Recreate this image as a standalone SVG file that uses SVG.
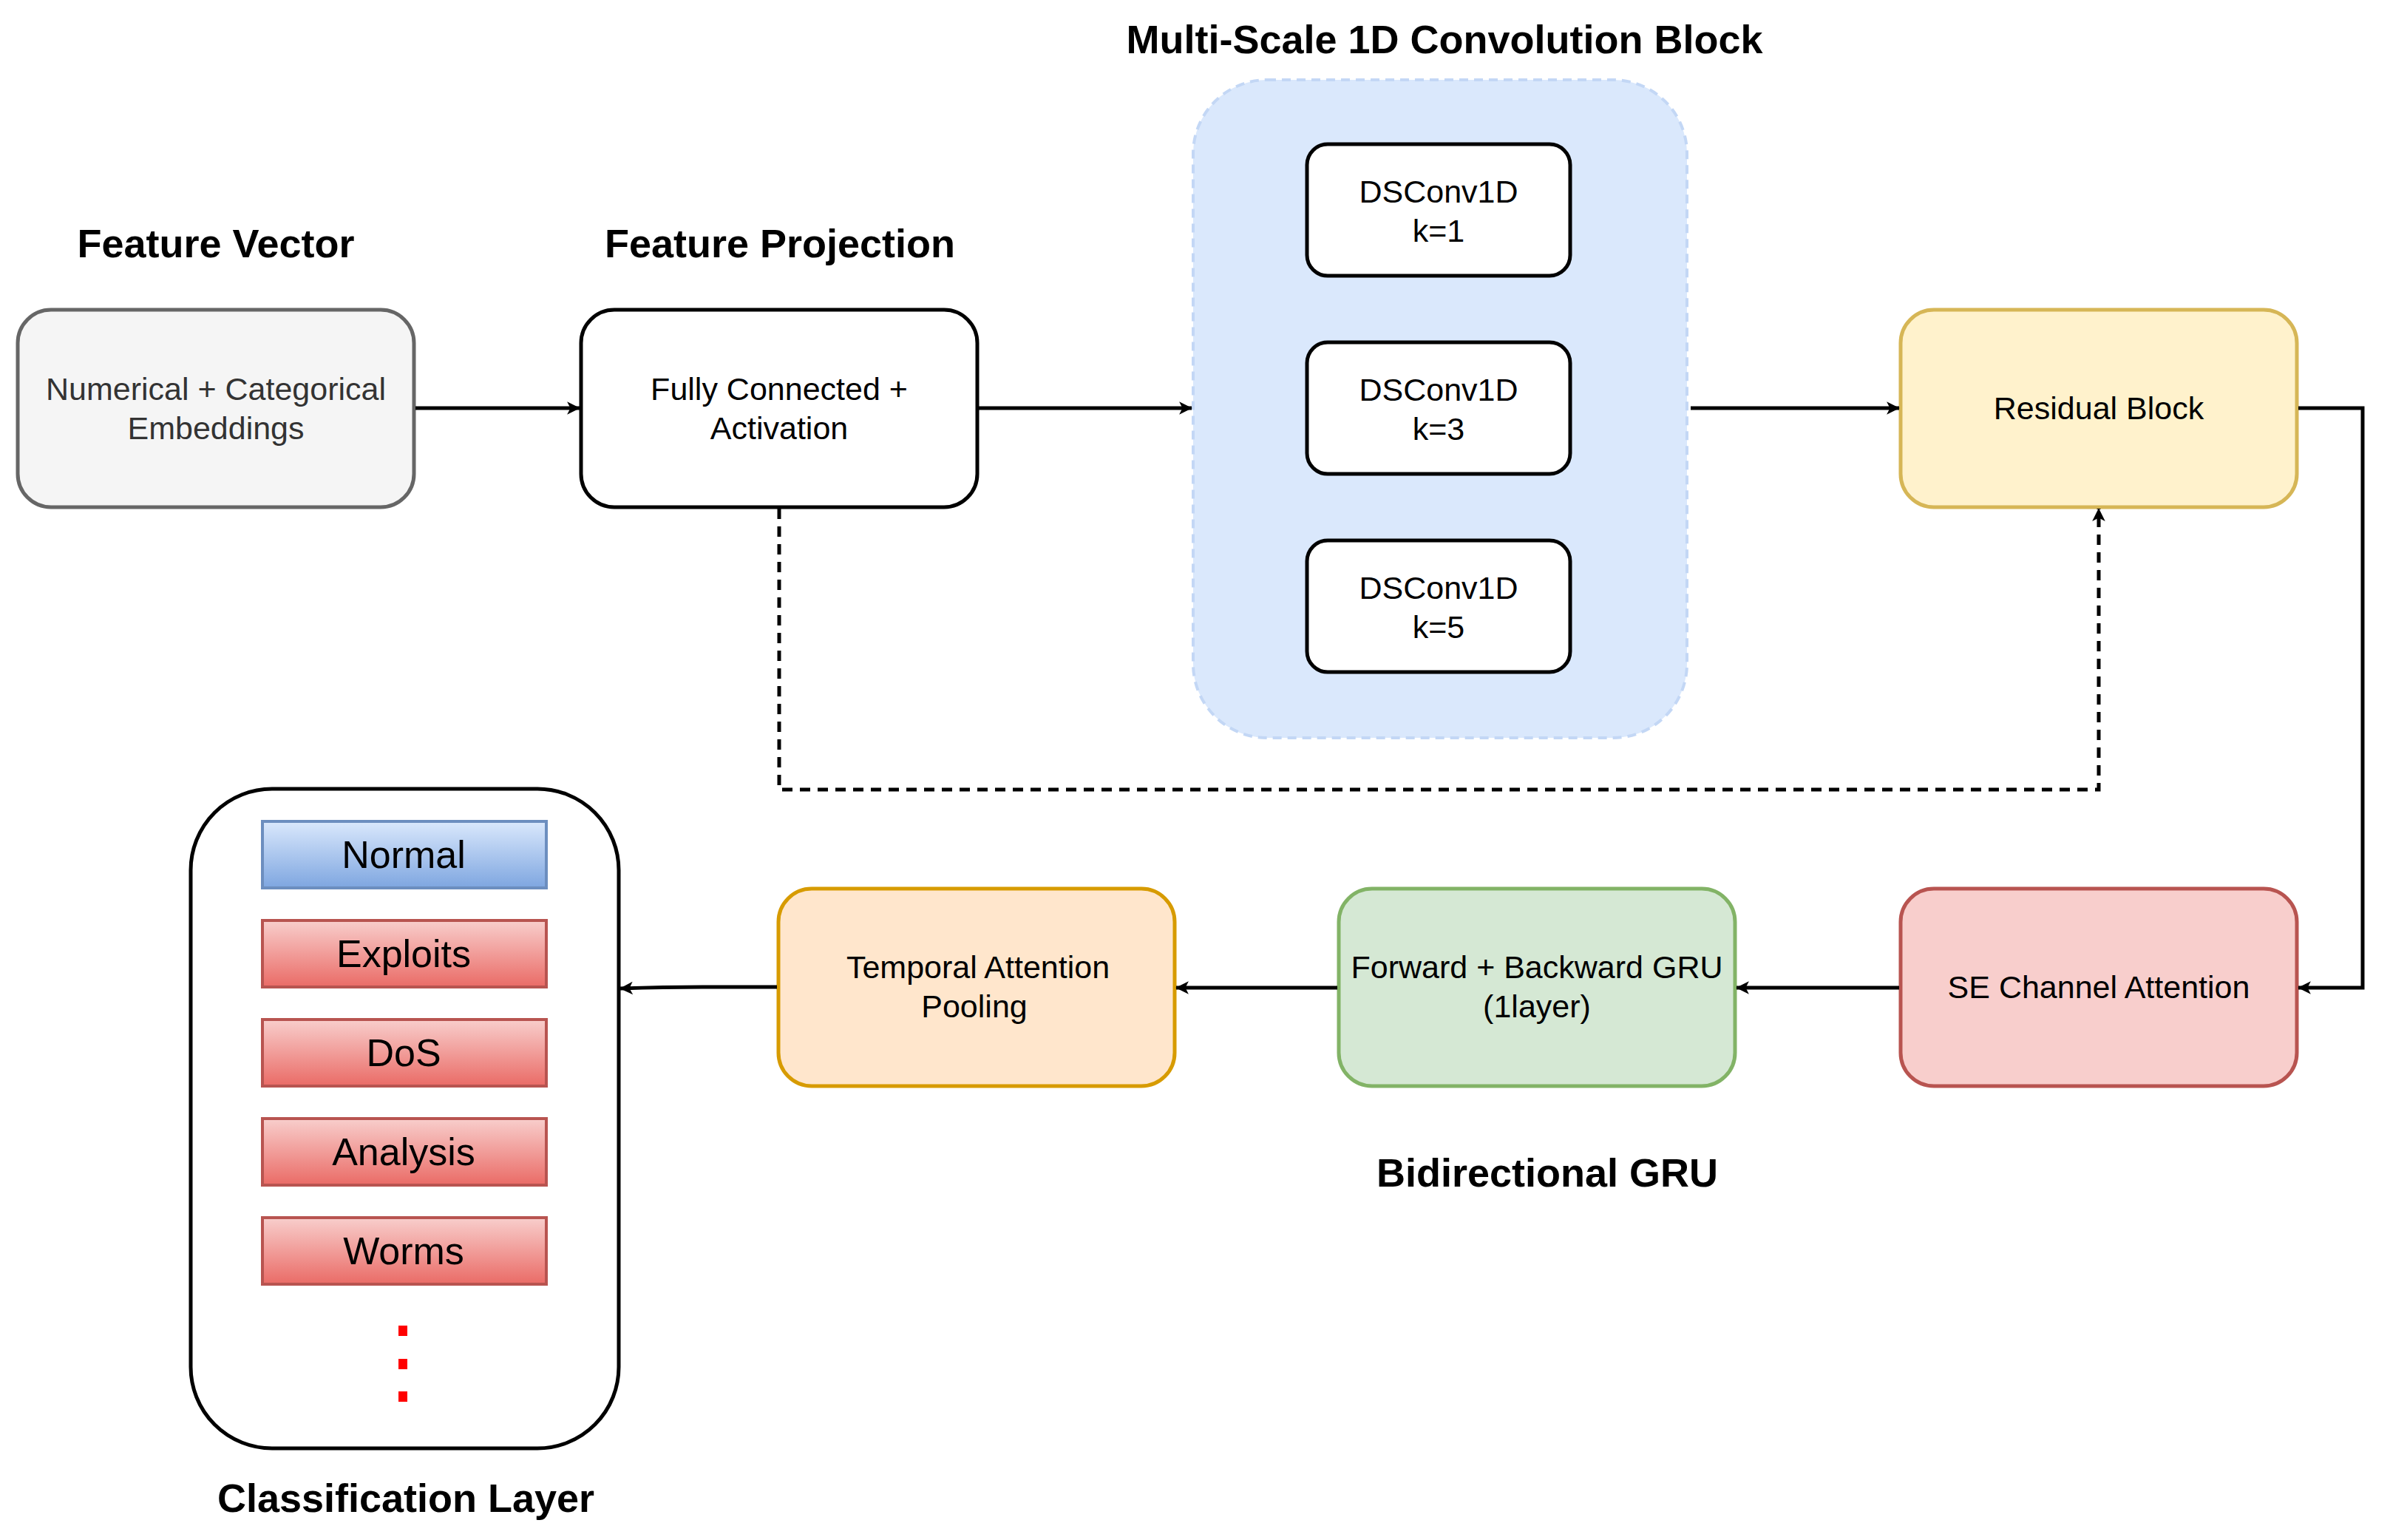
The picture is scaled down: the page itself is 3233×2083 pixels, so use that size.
<svg xmlns="http://www.w3.org/2000/svg" width="3233" height="2083" viewBox="0 0 3233 2083">
<style>
text{font-family:"Liberation Sans",Arial,sans-serif;text-anchor:middle}
.t{font-size:54px;font-weight:bold;fill:#000}
.n{font-size:43px;fill:#000}
.c{font-size:52px;fill:#000}
.box{stroke-width:5}
.e{fill:none;stroke:#000;stroke-width:5}
</style>
<defs>
<marker id="a" viewBox="0 0 20 20" refX="18" refY="10" markerWidth="8" markerHeight="8" markerUnits="userSpaceOnUse" orient="auto" style="overflow:visible">
<path d="M0,0 L20,10 L0,20 L5,10 Z" fill="#000" transform="scale(2.2) translate(-11,-5.5)"/>
</marker>
<linearGradient id="gb" x1="0" y1="0" x2="0" y2="1"><stop offset="0" stop-color="#dae8fc"/><stop offset="1" stop-color="#7ea6e0"/></linearGradient>
<linearGradient id="gr" x1="0" y1="0" x2="0" y2="1"><stop offset="0" stop-color="#f8cecc"/><stop offset="1" stop-color="#ea6b66"/></linearGradient>
</defs>
<g id="titles">
<text class="t" x="292" y="348">Feature Vector</text>
<text class="t" x="1055" y="348">Feature Projection</text>
<text class="t" x="1954" y="72">Multi-Scale 1D Convolution Block</text>
<text class="t" x="2093" y="1605">Bidirectional GRU</text>
<text class="t" x="549" y="2045">Classification Layer</text>
</g>
<g id="feature-vector">
<rect class="box" x="24" y="419" width="536" height="267" rx="45" fill="#f5f5f5" stroke="#666"/>
<text class="n" x="292" y="541" fill="#333" style="fill:#333">Numerical + Categorical</text>
<text class="n" x="292" y="594" style="fill:#333">Embeddings</text>
</g>
<g id="feature-projection">
<rect class="box" x="786" y="419" width="536" height="267" rx="45" fill="#fff" stroke="#000"/>
<text class="n" x="1054" y="541">Fully Connected +</text>
<text class="n" x="1054" y="594">Activation</text>
</g>
<g id="multiscale">
<rect x="1614" y="108" width="668" height="890" rx="100" fill="#dae8fc" stroke="#c3d7f5" stroke-width="4" stroke-dasharray="12 8"/>
</g>
<g id="conv1"><rect class="box" x="1768" y="195" width="356" height="178" rx="28" fill="#fff" stroke="#000"/>
<text class="n" x="1946" y="274">DSConv1D</text><text class="n" x="1946" y="327">k=1</text></g>
<g id="conv3"><rect class="box" x="1768" y="463" width="356" height="178" rx="28" fill="#fff" stroke="#000"/>
<text class="n" x="1946" y="542">DSConv1D</text><text class="n" x="1946" y="595">k=3</text></g>
<g id="conv5"><rect class="box" x="1768" y="731" width="356" height="178" rx="28" fill="#fff" stroke="#000"/>
<text class="n" x="1946" y="810">DSConv1D</text><text class="n" x="1946" y="863">k=5</text></g>
<g id="residual"><rect class="box" x="2571" y="419" width="536" height="267" rx="45" fill="#fff2cc" stroke="#d6b656"/>
<text class="n" x="2839" y="567">Residual Block</text></g>
<g id="se"><rect class="box" x="2571" y="1202" width="536" height="267" rx="45" fill="#f8cecc" stroke="#b85450"/>
<text class="n" x="2839" y="1350">SE Channel Attention</text></g>
<g id="gru"><rect class="box" x="1811" y="1202" width="536" height="267" rx="45" fill="#d5e8d4" stroke="#82b366"/>
<text class="n" x="2079" y="1323">Forward + Backward GRU</text><text class="n" x="2079" y="1376">(1layer)</text></g>
<g id="temporal"><rect class="box" x="1053" y="1202" width="536" height="267" rx="45" fill="#ffe6cc" stroke="#d79b00"/>
<text class="n" x="1323" y="1323">Temporal Attention</text><text class="n" x="1318" y="1376">Pooling</text></g>
<g id="classification">
<rect class="box" x="258" y="1067" width="579" height="892" rx="110" fill="#fff" stroke="#000"/>
<rect x="355" y="1111" width="384" height="90" fill="url(#gb)" stroke="#6c8ebf" stroke-width="4"/>
<text class="c" x="546" y="1174">Normal</text>
<rect x="355" y="1245" width="384" height="90" fill="url(#gr)" stroke="#b85450" stroke-width="4"/>
<text class="c" x="546" y="1308">Exploits</text>
<rect x="355" y="1379" width="384" height="90" fill="url(#gr)" stroke="#b85450" stroke-width="4"/>
<text class="c" x="546" y="1442">DoS</text>
<rect x="355" y="1513" width="384" height="90" fill="url(#gr)" stroke="#b85450" stroke-width="4"/>
<text class="c" x="546" y="1576">Analysis</text>
<rect x="355" y="1647" width="384" height="90" fill="url(#gr)" stroke="#b85450" stroke-width="4"/>
<text class="c" x="546" y="1710">Worms</text>
<rect x="539" y="1793" width="12" height="14" fill="#f00"/>
<rect x="539" y="1838" width="12" height="14" fill="#f00"/>
<rect x="539" y="1882" width="12" height="14" fill="#f00"/>
</g>
<g id="connectors">
<path class="e" d="M562,552 H784" marker-end="url(#a)"/>
<path class="e" d="M1324,552 H1612" marker-end="url(#a)"/>
<path class="e" d="M2287,552 H2569" marker-end="url(#a)"/>
<path class="e" d="M3109,552 H3196 V1336 H3109" marker-end="url(#a)"/>
<path class="e" d="M2569,1336 H2349" marker-end="url(#a)"/>
<path class="e" d="M1809,1336 H1591" marker-end="url(#a)"/>
<path class="e" d="M1051,1335 H950 Q900,1335 839,1337" marker-end="url(#a)"/>
<path class="e" d="M1054,688 V1068 H2839 V688" stroke-dasharray="14 10" marker-end="url(#a)"/>
</g>
</svg>
